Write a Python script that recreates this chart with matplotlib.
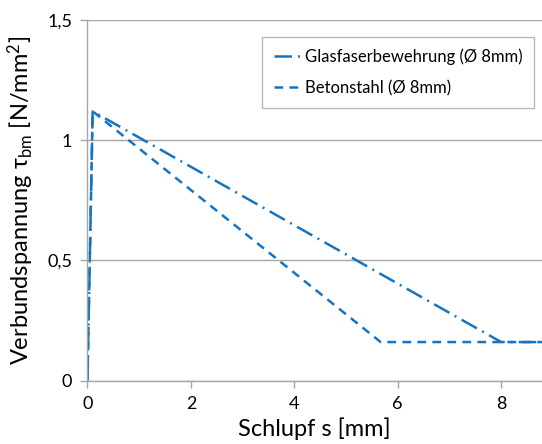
import numpy as np
import matplotlib
matplotlib.use('Agg')
import matplotlib.pyplot as plt

plt.rcParams['font.family'] = ['Lato', 'DejaVu Sans']
plt.rcParams['mathtext.fontset'] = 'custom'
plt.rcParams['mathtext.rm'] = 'Lato'
plt.rcParams['mathtext.it'] = 'Lato:italic'

# Verbund-Schlupf-Beziehung (vereinfacht)
s_glas = [0.0, 0.1, 8.0, 8.8]
tau_glas = [0.0, 1.12, 0.16, 0.16]
s_stahl = [0.0, 0.1, 5.67, 8.8]
tau_stahl = [0.0, 1.12, 0.16, 0.16]

x_ticks = [0, 2, 4, 6, 8]
y_ticks = [0, 0.5, 1, 1.5]
y_ticklabels = ['{:g}'.format(v).replace('.', ',') for v in y_ticks]

color = '#1574c4'
gray = '#a6a6a6'

fig = plt.figure(figsize=(5.42, 4.44), dpi=100)
ax = fig.add_axes([0.1614, 0.143, 0.8386, 0.812])

ax.plot(s_glas, tau_glas, color=color, linewidth=1.8,
        dashes=(7, 2.4, 0.8, 2.4), label='Glasfaserbewehrung (Ø 8mm)')
ax.plot(s_stahl, tau_stahl, color=color, linewidth=1.8,
        dashes=(3.5, 2.5), label='Betonstahl (Ø 8mm)')

ax.set_xlim(0, 8.79)
ax.set_ylim(0, 1.5)
ax.set_xticks(x_ticks)
ax.set_yticks(y_ticks)
ax.set_yticklabels(y_ticklabels)

ax.grid(axis='y', color=gray, linewidth=1)
ax.set_axisbelow(True)
for side in ['top', 'right']:
    ax.spines[side].set_visible(False)
for side in ['left', 'bottom']:
    ax.spines[side].set_color(gray)
    ax.spines[side].set_linewidth(1)
ax.tick_params(axis='both', colors=gray, length=5, width=1, labelsize=13,
               labelcolor='black', pad=6)

ax.set_xlabel('Schlupf s [mm]', fontsize=17, labelpad=4)
ax.set_ylabel('Verbundspannung τ$_{\\mathrm{bm}}$ [N/mm$^{2}$]', fontsize=17,
              labelpad=8)

leg = ax.legend(loc='upper left', bbox_to_anchor=(0.384, 0.953),
                borderaxespad=0, fontsize=12, fancybox=False,
                edgecolor=gray, handlelength=1.6, borderpad=0.7,
                labelspacing=0.9, handletextpad=0.25)
leg.get_frame().set_linewidth(1)

plt.savefig('out.png', dpi=100)
